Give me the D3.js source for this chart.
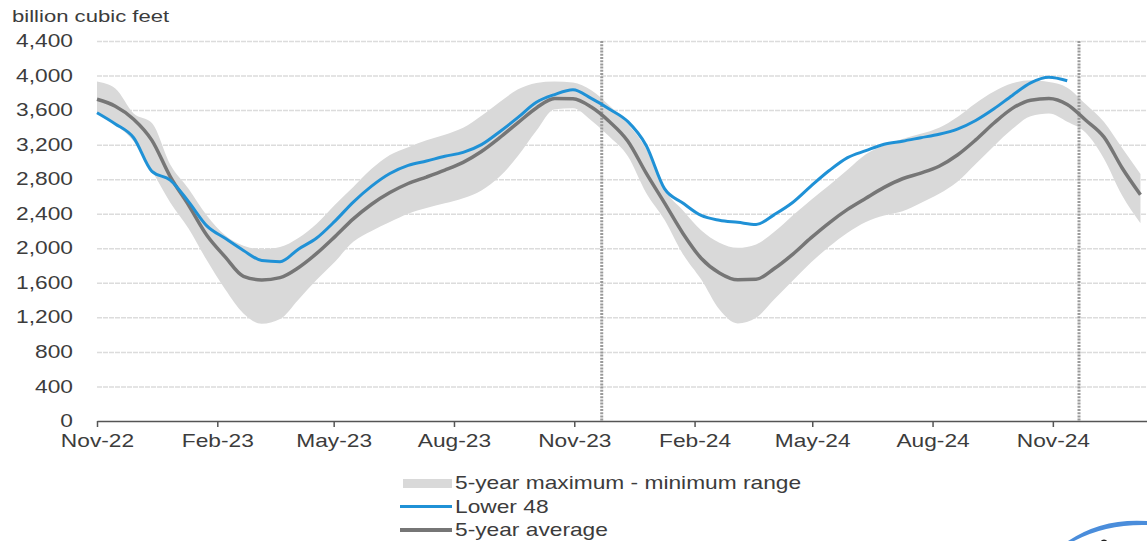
<!DOCTYPE html>
<html>
<head>
<meta charset="utf-8">
<script src="https://cdn.jsdelivr.net/npm/d3@7"></script>
<style>
  body { margin: 0; background: #fff; }
  svg { display: block; font-family: "Liberation Sans", Arial, sans-serif; }
</style>
</head>
<body>
<div id="chart"></div>
<script>
// two-week sample dates, starting at the left edge of the axis
const startDate = new Date(2022, 10, 1);
const sampleDates = d3.range(58).map(i => d3.timeDay.offset(startDate, i * 14));

// billion cubic feet
const lower48 = [3570,3440,3280,2890,2790,2540,2260,2115,1975,1858,1845,1990,2119,2315,2535,2720,2866,2960,3010,3065,
  3110,3200,3350,3515,3690,3780,3835,3735,3610,3466,3190,2690,2525,2380,2325,2300,2275,2390,2530,2720,
  2900,3050,3130,3205,3240,3280,3320,3380,3480,3615,3770,3915,3980,3940,null,null,null,null];
const avg5 = [3725,3645,3495,3250,2830,2500,2150,1900,1675,1633,1660,1775,1940,2135,2340,2510,2645,2750,2825,2905,
  2995,3120,3280,3455,3625,3735,3730,3635,3465,3240,2870,2525,2175,1885,1715,1635,1640,1765,1930,2120,
  2295,2450,2580,2705,2805,2870,2950,3080,3255,3450,3620,3715,3735,3665,3485,3290,2930,2620];
const max5 = [3930,3850,3560,3450,2970,2690,2380,2150,2030,1990,2015,2120,2285,2505,2710,2920,3080,3170,3250,3315,
  3395,3535,3695,3840,3915,3930,3920,3830,3650,3440,3150,2680,2440,2210,2065,2005,2045,2190,2380,2560,
  2730,2910,3090,3190,3265,3325,3395,3520,3680,3815,3910,3945,3925,3860,3670,3465,3160,2860];
const min5 = [3560,3430,3240,2900,2530,2230,1860,1525,1245,1125,1180,1405,1635,1845,2075,2200,2305,2400,2465,2520,
  2580,2670,2830,3070,3360,3610,3620,3480,3290,3065,2640,2330,1935,1640,1290,1130,1195,1410,1625,1835,
  2020,2180,2305,2380,2430,2525,2630,2770,2975,3185,3380,3530,3560,3465,3340,3040,2610,2290];

const xTickDates = ["2022-11-01","2023-02-01","2023-05-01","2023-08-01","2023-11-01",
  "2024-02-01","2024-05-01","2024-08-01","2024-11-01"];
const yTicks = [0,400,800,1200,1600,2000,2400,2800,3200,3600,4000,4400];
const markerDates = ["2023-11-22","2024-11-21"];

const legendItems = [
  {label: "5-year maximum - minimum range", type: "band"},
  {label: "Lower 48", type: "blue"},
  {label: "5-year average", type: "avg"}
];

const width = 1147, height = 541;
const margin = {top: 41, right: 0, bottom: 120, left: 97};
const stretch = 1.3;   // the source text is drawn wide
const textColor = "#3c3c3c";
const blue = "#1f91d6", avgGray = "#767676", bandGray = "#d9d9d9";

const parse = d3.timeParse("%Y-%m-%d");

const svg = d3.select("#chart").append("svg")
  .attr("width", width)
  .attr("height", height);

svg.append("rect").attr("width", width).attr("height", height).attr("fill", "#fff");

const x = d3.scaleTime()
  .domain([startDate, new Date(2025, 0, 12)])
  .range([margin.left, width]);
const y = d3.scaleLinear()
  .domain([0, 4400])
  .range([height - margin.bottom, margin.top]);

const rows = sampleDates.map((d, i) => ({
  date: d, lower: lower48[i], avg: avg5[i], max: max5[i], min: min5[i]
}));

// y grid + labels
const yAxis = svg.append("g")
  .attr("transform", `translate(${margin.left},0)`)
  .call(d3.axisLeft(y).tickValues(yTicks).tickFormat(d3.format(","))
    .tickSize(-(width - margin.left)).tickPadding(0));
yAxis.select(".domain").remove();
yAxis.selectAll(".tick line")
  .attr("stroke", "#dcdcdc")
  .attr("stroke-width", 1.5)
  .attr("stroke-dasharray", "5,1")
  .filter(d => d === 0).remove();
yAxis.selectAll(".tick text")
  .attr("x", -24 / stretch)
  .attr("transform", `scale(${stretch},1)`)
  .attr("fill", textColor)
  .style("font-size", "17.5px");

// band
svg.append("path")
  .datum(rows)
  .attr("fill", bandGray)
  .attr("d", d3.area()
    .x(d => x(d.date))
    .y0(d => y(d.min))
    .y1(d => y(d.max))
    .curve(d3.curveMonotoneX));

// dashed markers
svg.selectAll(".marker")
  .data(markerDates)
  .enter()
  .append("line")
  .attr("x1", d => x(parse(d)))
  .attr("x2", d => x(parse(d)))
  .attr("y1", y(4400))
  .attr("y2", y(0))
  .attr("stroke", "#9a9a9a")
  .attr("stroke-width", 3)
  .attr("stroke-dasharray", "2,1.2");

// 5-year average
svg.append("path")
  .datum(rows)
  .attr("fill", "none")
  .attr("stroke", avgGray)
  .attr("stroke-width", 3.5)
  .attr("d", d3.line()
    .x(d => x(d.date))
    .y(d => y(d.avg))
    .curve(d3.curveMonotoneX));

// Lower 48
svg.append("path")
  .datum(rows)
  .attr("fill", "none")
  .attr("stroke", blue)
  .attr("stroke-width", 3)
  .attr("d", d3.line()
    .defined(d => d.lower != null)
    .x(d => x(d.date))
    .y(d => y(d.lower))
    .curve(d3.curveMonotoneX));

// x axis
const xAxis = svg.append("g")
  .attr("transform", `translate(0,${y(0)})`)
  .call(d3.axisBottom(x).tickValues(xTickDates.map(parse))
    .tickFormat(d3.timeFormat("%b-%y")).tickSize(6).tickSizeOuter(0));
xAxis.select(".domain").attr("stroke", "#555").attr("stroke-width", 1.5);
xAxis.selectAll(".tick line").attr("stroke", "#555").attr("stroke-width", 1.5);
xAxis.selectAll(".tick text")
  .attr("y", 14)
  .attr("transform", `scale(${stretch},1)`)
  .attr("fill", textColor)
  .style("font-size", "17.5px");

// unit label
svg.append("text")
  .attr("transform", `translate(12,22) scale(${stretch},1)`)
  .attr("fill", textColor)
  .style("font-size", "17px")
  .text("billion cubic feet");

// legend
const legend = svg.append("g").attr("transform", "translate(400,483)");
const item = legend.selectAll("g")
  .data(legendItems)
  .enter()
  .append("g")
  .attr("transform", (d, i) => `translate(0,${i * 23.5})`);

item.filter(d => d.type === "band").append("rect")
  .attr("x", 3).attr("y", -4).attr("width", 49).attr("height", 9)
  .attr("fill", bandGray);
item.filter(d => d.type !== "band").append("line")
  .attr("x1", 0).attr("x2", 52)
  .attr("stroke", d => d.type === "blue" ? blue : avgGray)
  .attr("stroke-width", d => d.type === "blue" ? 3 : 4);
item.append("text")
  .attr("transform", `translate(55,6) scale(${stretch},1)`)
  .attr("fill", textColor)
  .style("font-size", "17.5px")
  .text(d => d.label);

// corner logo fragment
svg.append("path")
  .attr("d", "M1068,541 Q1102,518 1147,521 L1147,525 Q1106,524 1074,541 Z")
  .attr("fill", "#4a8ddb");
svg.append("circle").attr("cx", 1104).attr("cy", 543).attr("r", 3.5).attr("fill", "#222");
</script>
</body>
</html>
